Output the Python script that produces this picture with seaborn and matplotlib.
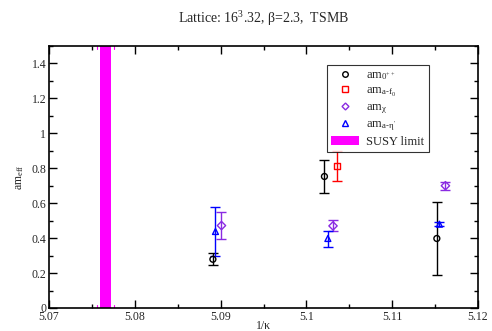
import matplotlib
matplotlib.use("Agg")
import matplotlib.pyplot as plt
import matplotlib.ticker as ticker
import matplotlib.transforms as mtransforms
from matplotlib.patches import Patch
from matplotlib.lines import Line2D
import seaborn as sns

# data: 1/kappa, value, lower error, upper error
glue_x = [5.0891, 5.1021, 5.1152]
glue_y = [0.279, 0.753, 0.398]
glue_lo = [0.032, 0.095, 0.210]
glue_hi = [0.035, 0.092, 0.210]

af0_x = [5.1036]
af0_y = [0.815]
af0_lo = [0.086]
af0_hi = [0.082]

chi_x = [5.0901, 5.1031, 5.1162]
chi_y = [0.472, 0.470, 0.700]
chi_lo = [0.078, 0.028, 0.023]
chi_hi = [0.075, 0.033, 0.019]

aeta_x = [5.0894, 5.1025, 5.1155]
aeta_y = [0.438, 0.398, 0.480]
aeta_lo = [0.140, 0.046, 0.010]
aeta_hi = [0.140, 0.044, 0.010]

susy_lo, susy_hi = 5.0760, 5.0772
susy_err = [5.0756, 5.0776]

sns.set_style("ticks")
plt.rcParams["font.family"] = ["Liberation Serif", "DejaVu Serif"]
plt.rcParams["mathtext.fontset"] = "custom"
plt.rcParams["mathtext.rm"] = "Liberation Serif"
plt.rcParams["mathtext.it"] = "Liberation Serif"

fig = plt.figure(figsize=(4.92, 3.31), dpi=100)
ax = fig.add_axes([0.0996, 0.0695, 0.872, 0.7915])

ax.axvspan(susy_lo, susy_hi, color="#ff00ff", lw=0, zorder=1)
trans = mtransforms.blended_transform_factory(ax.transData, ax.transAxes)
for xe in susy_err:
    ax.plot([xe, xe], [0, 0.012], color="#ff00ff", lw=0.8, transform=trans)
    ax.plot([xe, xe], [0.988, 1], color="#ff00ff", lw=0.8, transform=trans)

series = [
    (glue_x, glue_y, glue_lo, glue_hi, "o", "black"),
    (af0_x, af0_y, af0_lo, af0_hi, "s", "red"),
    (chi_x, chi_y, chi_lo, chi_hi, "D", "#8a2be2"),
    (aeta_x, aeta_y, aeta_lo, aeta_hi, "^", "blue"),
]
for xs, ys, lo, hi, mk, col in series:
    ax.errorbar(xs, ys, yerr=[lo, hi], fmt="none", ecolor=col,
                elinewidth=1.0, capsize=3.5, capthick=1.0, zorder=3)
    sns.scatterplot(x=xs, y=ys, marker=mk, s=18, facecolors="none",
                    edgecolor=col, linewidth=1.0, ax=ax, zorder=4)

ax.set_xlim(5.07, 5.12)
ax.set_ylim(0, 1.5)
ax.xaxis.set_major_locator(ticker.MultipleLocator(0.01))
ax.xaxis.set_minor_locator(ticker.MultipleLocator(0.005))
ax.yaxis.set_major_locator(ticker.FixedLocator([0, 0.2, 0.4, 0.6, 0.8, 1.0, 1.2, 1.4]))
ax.yaxis.set_minor_locator(ticker.MultipleLocator(0.1))
ax.xaxis.set_major_formatter(ticker.FuncFormatter(lambda v, p: f"{v:g}"))
ax.yaxis.set_major_formatter(ticker.FuncFormatter(lambda v, p: f"{v:g}"))
ax.tick_params(which="both", direction="in", top=True, right=True,
               labelsize=8.5, color="black", width=1.0, pad=2)
ax.tick_params(which="major", length=6)
ax.tick_params(which="minor", length=3)
for s in ax.spines.values():
    s.set_linewidth(1.2)
    s.set_color("black")

ax.set_xlabel("1/κ", fontsize=8.5, labelpad=-2)
ax.set_ylabel(r"am$_{\rm eff}$", fontsize=8.5, labelpad=4)
fig.text(0.535, 0.945, r"Lattice: 16$^3$.32, β=2.3,  TSMB",
         ha="center", va="center", fontsize=10)

handles = [
    Line2D([], [], marker="o", ls="none", mfc="none", mec="black", ms=4),
    Line2D([], [], marker="s", ls="none", mfc="none", mec="red", ms=4),
    Line2D([], [], marker="D", ls="none", mfc="none", mec="#8a2be2", ms=3.5),
    Line2D([], [], marker="^", ls="none", mfc="none", mec="blue", ms=4),
    Patch(facecolor="#ff00ff", edgecolor="none"),
]
labels = ["am$_{0^{++}}$", "am$_{a\u2010f_0}$", "am$_{χ}$",
          "am$_{a\u2010η'}$", "SUSY limit"]
leg = ax.legend(handles, labels, loc="upper left", bbox_to_anchor=(0.648, 0.928),
                fontsize=9, frameon=True, fancybox=False, edgecolor="black",
                handlelength=2.2, handletextpad=0.6, borderpad=0.35,
                labelspacing=0.2, borderaxespad=0)
leg.get_frame().set_linewidth(0.8)

fig.savefig("out.png", dpi=100)
